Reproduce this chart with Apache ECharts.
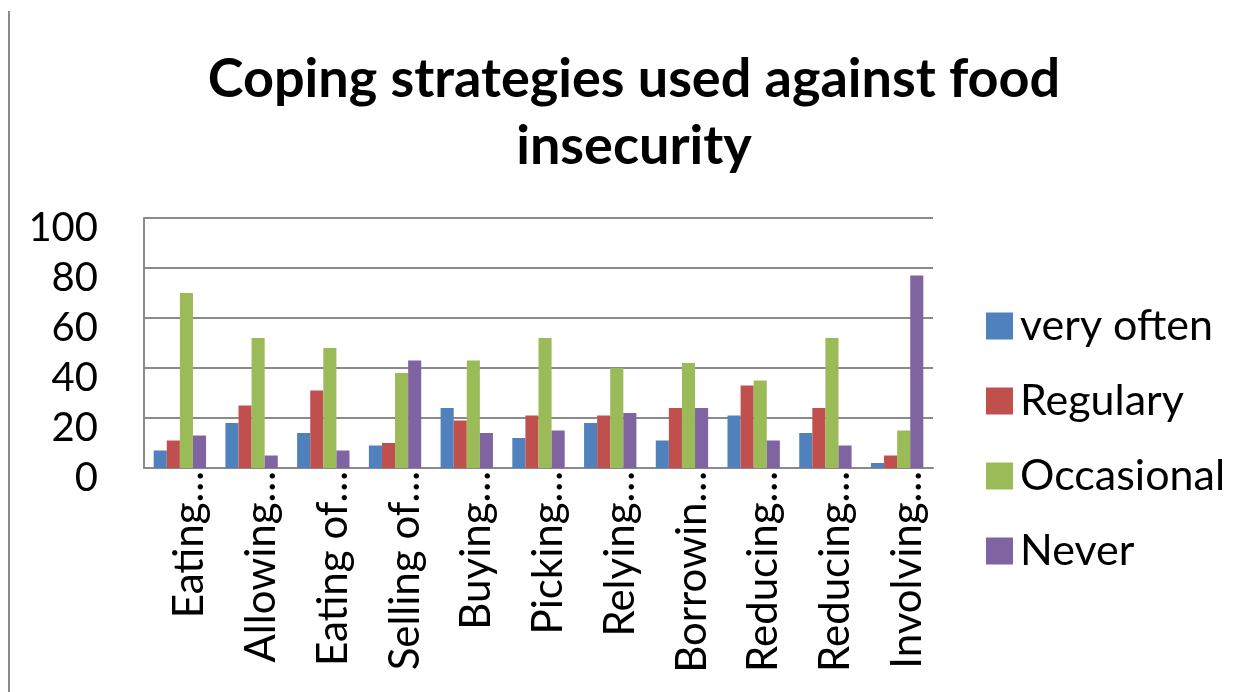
<!DOCTYPE html>
<html>
<head>
<meta charset="utf-8">
<script src="https://cdn.jsdelivr.net/npm/echarts@6/dist/echarts.min.js"></script>
<style>
html,body{margin:0;padding:0;background:#fff;}
#frame{position:absolute;left:8px;top:11px;width:0;height:681px;border-left:2px solid #8a8a8a;}
#chart{position:absolute;left:0;top:0;width:1249px;height:692px;}
</style>
</head>
<body>
<div id="frame"></div>
<div id="chart"></div>
<script>
const categories = ["Eating…", "Allowing…", "Eating of…", "Selling of…", "Buying…", "Picking…", "Relying…", "Borrowin…", "Reducing…", "Reducing…", "Involving…"];
const seriesNames = ["very often", "Regulary", "Occasional", "Never"];
const veryOften = [7, 18, 14, 9, 24, 12, 18, 11, 21, 14, 2];
const regulary = [11, 25, 31, 10, 19, 21, 21, 24, 33, 24, 5];
const occasional = [70, 52, 48, 38, 43, 52, 40, 42, 35, 52, 15];
const never = [13, 5, 7, 43, 14, 15, 22, 24, 11, 9, 77];
const colors = ["#4F81BD", "#C0504D", "#9BBB59", "#8064A2"];

const values = [veryOften, regulary, occasional, never];
const FONT = "Lato";
const chart = echarts.init(document.getElementById('chart'), null, {renderer: 'canvas'});
chart.setOption({
  animation: false,
  backgroundColor: 'transparent',
  title: {
    text: 'Coping strategies used against food\ninsecurity',
    left: 634,
    textAlign: 'center',
    top: 46,
    padding: 0,
    textStyle: {fontFamily: FONT, fontWeight: 'bold', fontSize: 54, lineHeight: 67, color: '#000'}
  },
  legend: {
    orient: 'vertical',
    left: 981,
    top: 299,
    itemWidth: 27,
    itemHeight: 27,
    itemGap: 31,
    icon: 'rect',
    textStyle: {fontFamily: FONT, fontSize: 43, lineHeight: 44, color: '#000', padding: [0, 0, 0, 2]},
    data: seriesNames
  },
  grid: {left: 144, right: 316, top: 218, bottom: 224, containLabel: false},
  xAxis: {
    type: 'category',
    data: categories,
    axisLine: {show: true, lineStyle: {color: '#8a8a8a', width: 2}},
    axisTick: {show: false},
    axisLabel: {rotate: 90, interval: 0, margin: 3, fontFamily: FONT, fontSize: 42, color: '#000', verticalAlign: 'top', lineHeight: 20}
  },
  yAxis: {
    type: 'value',
    min: 0, max: 100, interval: 20,
    axisLine: {show: true, lineStyle: {color: '#8a8a8a', width: 2}},
    axisTick: {show: false},
    splitLine: {show: true, lineStyle: {color: '#8a8a8a', width: 2}},
    axisLabel: {margin: 46, fontFamily: FONT, fontSize: 40, color: '#000', verticalAlign: 'top', lineHeight: 20}
  },
  series: seriesNames.map((name, i) => ({
    name: name,
    type: 'bar',
    data: values[i],
    barGap: '0%',
    barCategoryGap: '27%',
    itemStyle: {color: colors[i]}
  }))
});
</script>
</body>
</html>
